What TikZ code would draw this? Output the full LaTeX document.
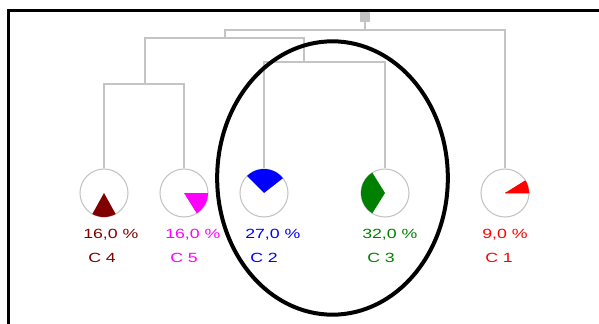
\documentclass[tikz,border=0pt]{standalone}
\usepackage{fontspec}
\newfontfamily\lab[FakeStretch=1.33]{Liberation Sans}
\definecolor{dgray}{HTML}{C4C4C4}
\definecolor{cdred}{HTML}{800000}
\definecolor{cmag}{HTML}{FF00FF}
\definecolor{cblue}{HTML}{0000FF}
\definecolor{cgreen}{HTML}{008000}
\definecolor{cred}{HTML}{FF0000}
\begin{document}
\begin{tikzpicture}[x=0.75pt,y=-0.75pt,
  link/.style={draw=dgray,line width=1.1pt},
  piecircle/.style={circle,draw=dgray,line width=0.8pt,minimum size=36pt,inner sep=0pt,fill=white},
  pct/.style={anchor=west,inner sep=0pt,font=\lab\fontsize{10}{12}\selectfont},
  root/.style={fill=dgray,minimum size=7.5pt,inner sep=0pt}]
\useasboundingbox (0,0) rectangle (599,324);
\draw[line width=1.6pt] (8.5,324) -- (8.5,10.5) -- (599,10.5);

% root and junctions
\node[root] (r) at (365,17) {};
\coordinate (j0) at (365,30);
\coordinate (j1) at (225,38);
\coordinate (j2) at (145,84);
\coordinate (j3) at (304,62);

% pies
\node[piecircle] (c4) at (104,193) {};
\node[piecircle] (c5) at (184,193) {};
\node[piecircle] (c2) at (264,193) {};
\node[piecircle] (c3) at (385,193) {};
\node[piecircle] (c1) at (505,193) {};

% dendrogram links
\path[link] (r.south) -- (j0);
\path[link] (c1.north) |- (j0) -| (j1);
\path[link] (j1) -| (j2);
\path[link] (j1) -| (j3);
\path[link] (c4.north) |- (j2) -| (c5.north);
\path[link] (c2.north) |- (j3) -| (c3.north);

% wedges
\fill[cdred] (c4.center) -- ++(241:18pt) arc[start angle=241,end angle=299,radius=18pt] -- cycle;
\fill[cmag] (c5.center) -- ++(-58:18pt) arc[start angle=-58,end angle=0,radius=18pt] -- cycle;
\fill[cblue] (c2.center) -- ++(38:18pt) arc[start angle=38,end angle=135,radius=18pt] -- cycle;
\fill[cgreen] (c3.center) -- ++(122:18pt) arc[start angle=122,end angle=238,radius=18pt] -- cycle;
\draw[dgray,line width=0.8pt] (c1.center) -- (c1.east);
\fill[cred] (c1.center) -- ++(0:18pt) arc[start angle=0,end angle=32,radius=18pt] -- cycle;

% labels
\node[pct,text=cdred] (p4) at (83,235) {16,0 \%};
\node[pct,text=cdred] (n4) at (88,258) {C 4};
\node[pct,text=cmag] (p5) at (165,235) {16,0 \%};
\node[pct,text=cmag] (n5) at (170,258) {C 5};
\node[pct,text=cblue] (p2) at (245,235) {27,0 \%};
\node[pct,text=cblue] (n2) at (250,258) {C 2};
\node[pct,text=cgreen] (p3) at (362,235) {32,0 \%};
\node[pct,text=cgreen] (n3) at (367,258) {C 3};
\node[pct,text=cred] (p1) at (482,235) {9,0 \%};
\node[pct,text=cred] (n1) at (485,258) {C 1};

% highlight ellipse
\draw[line width=3pt] (332.5,178) ellipse [x radius=86.5pt, y radius=102.5pt];
\end{tikzpicture}
\end{document}
